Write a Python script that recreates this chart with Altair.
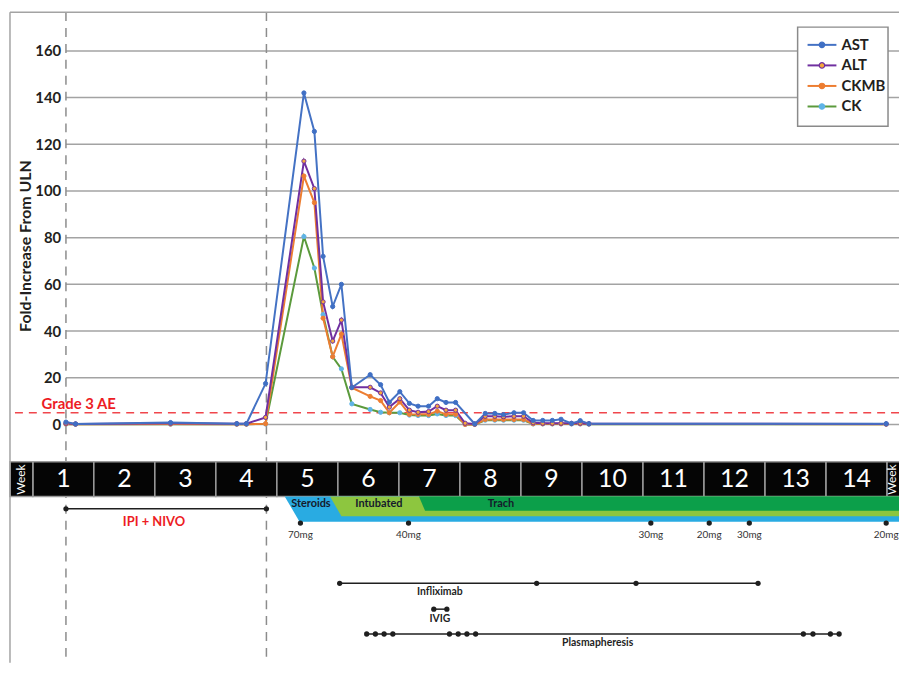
import altair as alt
import pandas as pd

# ---------------- data ----------------
SERIES = ["AST", "ALT", "CKMB", "CK"]
# study day (week k spans days 7(k-1)..7k)
LAB_DAY = [3.8, 4.9, 15.8, 23.4, 24.5, 26.7, 31.1, 32.3, 33.3, 34.4, 35.4, 36.6,
           38.7, 39.9, 40.9, 42.1, 43.2, 44.2, 45.4, 46.4, 47.4, 48.5, 49.6, 50.7,
           51.9, 53.0, 54.0, 55.2, 56.3, 57.4, 58.5, 59.6, 60.6, 61.8, 62.8, 63.8, 97.9]
AST = [1.0, 0.2, 0.8, 0.3, 0.3, 17.5, 142, 125.5, 72, 50.5, 60, 15.8,
       21.3, 17, 9.5, 14, 9, 7.8, 7.8, 11, 9.4, 9.4, None, 0.2,
       4.7, 4.7, 4.2, 5, 5, 1.7, 1.7, 1.7, 2.2, 0.4, 1.6, 0.3, 0.3]
ALT = [0.5, 0.2, 0.5, 0.3, 0.3, 3.0, 112.8, 101, 52.5, 35.7, 44.7, 15.9,
       15.9, 13.5, 7.4, 11, 6.1, 5.2, 5.5, 7.8, 6.1, 6.1, 0.5, 0.2,
       3.5, 3.5, 3.3, 3.5, 3.5, 0.7, 0.5, 0.5, 0.5, 0.5, 0.5, 0.3, 0.2]
CKMB = [0.2, 0.1, 0.2, 0.1, 0.1, 0.3, 106.4, 95, 45.5, 29, 38.7, 15.7,
        12, 10.2, 5, 9.6, 4.3, 4.3, 4.3, 5.7, 4.3, 4.3, 0, 0,
        2.1, 2.1, 2.1, 2.1, 2.1, 0.3, 0.3, 0.3, 0.3, 0.3, 0.3, 0.2, 0.1]
CK = [0.1, 0.1, 0.1, 0.1, 0.1, 0.2, 80.5, 67, 47, 29, 23.8, 8.8,
      6.4, 5.2, 5.0, 5.0, 4.0, 3.8, 3.8, 4.5, 3.8, 3.8, 0, 0,
      1.8, 1.8, 1.8, 1.8, 1.8, 0.2, 0.2, 0.2, 0.2, 0.2, 0.2, 0.1, 0.1]
Y_TICKS = [0, 20, 40, 60, 80, 100, 120, 140, 160]
GRADE3_AE = 5
WEEKS = list(range(1, 15))
IPI_NIVO_DAYS = [3.8, 26.8]
BAND_NAMES = ["Steroids", "Intubated", "Trach"]
BAND_START = [28.9, 34.1, 44.3]
STEROID_DOSE_DAY = [30.7, 43.1, 70.9, 77.6, 82.2, 97.9]
STEROID_DOSE_LABEL = ["70mg", "40mg", "30mg", "20mg", "30mg", "20mg"]
INFLIXIMAB_DAY = [35.2, 57.8, 69.2, 83.2]
IVIG_DAY = [46.0, 47.5]
PLASMA_DAY = [38.3, 39.3, 40.3, 41.3, 47.8, 48.8, 49.8, 50.8, 88.4, 89.5, 91.5, 92.5]

# ---------------- layout / style ----------------
W, H = 895, 655
X_DOMAIN = [-2.62, 99.37]
Y_DOMAIN = [-102.13, 176.6]
LANE = dict(week_top=-15.96, week_bot=-30.85, week_text=-23.62,
            band_top=-30.85, band_bot=[-41.70, -39.36, -37.02], band_text=-34.04,
            ipi=-36.17, ipi_text=-41.8, dose=-42.26, dose_text=-47.53,
            infl=-68.09, infl_text=-71.70, ivig=-79.15, ivig_text=-83.40,
            plasma=-89.79, plasma_text=-93.83)
# legend box placement (in chart units)
LEG = dict(x0=87.74, x1=98.11, y0=170.2, y1=127.7, sym0=88.88, sym1=92.19,
           dot=90.53, text=92.76, row0=162.6, step=8.8)
BAND_SLANT = [1.7, 1.3, 0.7]
BAND_COLORS = ["#29abe2", "#8dc63f", "#0c9f4a"]
BAND_LABEL_DAY = [31.9, 39.7, 53.7]
LINE_COLORS = ["#4472c4", "#7030a0", "#ed7d31", "#5b9a3c"]
MARK_FILL = ["#3f6fc4", "#f6a93b", "#ed7d31", "#5fb3e6"]
MARK_STROKE = ["#3f6fc4", "#7030a0", "#ed7d31", "#5fb3e6"]
FONT = "Lato"
RED = "#ed1c24"
DARK = "#1f1f1f"
TXT = "#231f20"

XS = alt.Scale(domain=X_DOMAIN, nice=False, zero=False)
YS = alt.Scale(domain=Y_DOMAIN, nice=False, zero=False)
CS = alt.Scale(domain=SERIES, range=LINE_COLORS)
FS = alt.Scale(domain=SERIES, range=MARK_FILL)
SS = alt.Scale(domain=SERIES, range=MARK_STROKE)

Y_AXIS = alt.Axis(
    values=Y_TICKS, offset=-56, grid=False, domain=False, ticks=False, tickSize=0,
    labelPadding=5, labelFont=FONT, labelFontSize=15, labelFontWeight="bold",
    labelColor=TXT, title="Fold-Increase From ULN", titleFont=FONT,
    titleFontSize=16, titleFontWeight="bold", titleColor=TXT,
    titleAngle=270, titleX=-40.5, titleY=235, titleBaseline="middle", titleAlign="center")


def X(f):
    return alt.X(f, type="quantitative", scale=XS, axis=None)


def Y(f):
    return alt.Y(f, type="quantitative", scale=YS, axis=Y_AXIS)


# lab table (draw order CK -> AST so AST is on top)
rows = []
for s, vals in [("CK", CK), ("CKMB", CKMB), ("ALT", ALT), ("AST", AST)]:
    for d, v in zip(LAB_DAY, vals):
        if v is not None:
            rows.append({"day": d, "value": v, "series": s})
lab = pd.DataFrame(rows)

# gridlines
grid = alt.Chart(pd.DataFrame({"v": Y_TICKS, "x0": IPI_NIVO_DAYS[0], "x1": X_DOMAIN[1]})).mark_rule(
    color="#a3a3a3", strokeWidth=1.5).encode(x=X("x0"), x2="x1", y=Y("v"))

dashed = alt.Chart(pd.DataFrame({"day": IPI_NIVO_DAYS})).mark_rule(
    color="#8c8c8c", strokeWidth=1.5, strokeDash=[9, 7]).encode(x=X("day"))

grade = alt.Chart(pd.DataFrame({"v": [GRADE3_AE]})).mark_rule(
    color="#f0464c", strokeWidth=1.5, strokeDash=[8, 6]).encode(y=Y("v"))
grade_txt = alt.Chart(pd.DataFrame({"v": [GRADE3_AE], "d": [1.0], "t": ["Grade 3 AE"]})).mark_text(
    align="left", baseline="bottom", dy=-1, font=FONT, fontSize=15, fontWeight="bold", color=RED
).encode(x=X("d"), y=Y("v"), text="t:N")

lines = alt.Chart(lab).mark_line(strokeWidth=2).encode(
    x=X("day"), y=Y("value"),
    color=alt.Color("series:N", scale=CS, legend=None),
)
points = alt.Chart(lab).mark_point(shape="circle", size=18, filled=True, opacity=1, strokeWidth=1).encode(
    x=X("day"), y=Y("value"),
    fill=alt.Fill("series:N", scale=FS, legend=None),
    stroke=alt.Stroke("series:N", scale=SS, legend=None),
)

# legend (drawn with marks)
leg_df = pd.DataFrame({"series": SERIES,
                       "y": [LEG["row0"] - i * LEG["step"] for i in range(len(SERIES))],
                       "a": LEG["sym0"], "b": LEG["sym1"], "d": LEG["dot"], "t": LEG["text"]})
leg_box = alt.Chart(pd.DataFrame({"a": [LEG["x0"]], "b": [LEG["x1"]], "c": [LEG["y0"]], "e": [LEG["y1"]]})).mark_rect(
    fill="white", stroke="#8a8a8a", strokeWidth=1.5).encode(x=X("a"), x2="b", y=Y("c"), y2="e")
leg_line = alt.Chart(leg_df).mark_rule(strokeWidth=2).encode(
    x=X("a"), x2="b", y=Y("y"), color=alt.Color("series:N", scale=CS, legend=None))
leg_dot = alt.Chart(leg_df).mark_point(shape="circle", size=30, filled=True, opacity=1, strokeWidth=1.2).encode(
    x=X("d"), y=Y("y"),
    fill=alt.Fill("series:N", scale=FS, legend=None),
    stroke=alt.Stroke("series:N", scale=SS, legend=None))
leg_txt = alt.Chart(leg_df).mark_text(align="left", baseline="middle", font=FONT, fontSize=15,
                                      fontWeight="bold", color=TXT).encode(
    x=X("t"), y=Y("y"), text="series:N")

# week bar
wk = pd.DataFrame({"s": [7 * (k - 1) for k in WEEKS] + [X_DOMAIN[0], 7 * WEEKS[-1]],
                   "e": [7 * k for k in WEEKS] + [0, X_DOMAIN[1] + 1],
                   "y0": LANE["week_top"], "y1": LANE["week_bot"]})
week_bar = alt.Chart(wk).mark_rect(fill="#050505", stroke="#9b9b9b", strokeWidth=1.5).encode(
    x=X("s"), x2="e", y=Y("y0"), y2="y1")
wk_txt = pd.DataFrame({"m": [7 * k - 3.5 for k in WEEKS], "t": [str(k) for k in WEEKS],
                       "y": LANE["week_text"]})
week_num = alt.Chart(wk_txt).mark_text(color="white", font=FONT, fontSize=25, baseline="middle").encode(
    x=X("m"), y=Y("y"), text="t:N")
wk_lab = pd.DataFrame({"m": [(X_DOMAIN[0]) / 2, 98.6], "t": ["Week", "Week"], "y": LANE["week_text"]})
week_word = alt.Chart(wk_lab).mark_text(color="white", font=FONT, fontSize=12, angle=270,
                                         baseline="middle", align="center").encode(
    x=X("m"), y=Y("y"), text="t:N")

# treatment bands
band_layers = []
for name, st, sl, bot, col in zip(BAND_NAMES, BAND_START, BAND_SLANT, LANE["band_bot"], BAND_COLORS):
    bdf = pd.DataFrame({"x": [st, st + sl, X_DOMAIN[1] + 1],
                        "t": [LANE["band_top"]] * 3,
                        "b": [LANE["band_top"], bot, bot]})
    band_layers.append(alt.Chart(bdf).mark_area(color=col, opacity=1).encode(
        x=X("x"), y=Y("t"), y2="b"))
band_txt = alt.Chart(pd.DataFrame({"d": BAND_LABEL_DAY, "t": BAND_NAMES, "y": LANE["band_text"]})).mark_text(
    font=FONT, fontSize=11, fontWeight="bold", color="#151a2c", baseline="middle").encode(
    x=X("d"), y=Y("y"), text="t:N")


def event(days, lane, label, label_day, label_lane, color=DARK, size=11, lcolor=DARK):
    seg = alt.Chart(pd.DataFrame({"a": [min(days)], "b": [max(days)], "y": [lane]})).mark_rule(
        color=color, strokeWidth=1.5).encode(x=X("a"), x2="b", y=Y("y"))
    dots = alt.Chart(pd.DataFrame({"d": days, "y": lane})).mark_circle(
        size=28, color=color, opacity=1).encode(x=X("d"), y=Y("y"))
    txt = alt.Chart(pd.DataFrame({"d": [label_day], "y": [label_lane], "t": [label]})).mark_text(
        font=FONT, fontSize=size, fontWeight="bold", color=lcolor, baseline="middle").encode(
        x=X("d"), y=Y("y"), text="t:N")
    return [seg, dots, txt]


ipi = event(IPI_NIVO_DAYS, LANE["ipi"], "IPI + NIVO", 13.9, LANE["ipi_text"], size=13, lcolor=RED)
infl = event(INFLIXIMAB_DAY, LANE["infl"], "Infliximab", 46.7, LANE["infl_text"], size=10.5)
ivig = event(IVIG_DAY, LANE["ivig"], "IVIG", 46.7, LANE["ivig_text"], size=10.5)
plasma = event(PLASMA_DAY, LANE["plasma"], "Plasmapheresis", 64.8, LANE["plasma_text"], size=10.5)

dose_dots = alt.Chart(pd.DataFrame({"d": STEROID_DOSE_DAY, "y": LANE["dose"]})).mark_circle(
    size=28, color=DARK, opacity=1).encode(x=X("d"), y=Y("y"))
dose_txt = alt.Chart(pd.DataFrame({"d": STEROID_DOSE_DAY, "t": STEROID_DOSE_LABEL, "y": LANE["dose_text"]})).mark_text(
    font=FONT, fontSize=10, color="#333333", baseline="middle").encode(x=X("d"), y=Y("y"), text="t:N")

frame_df = pd.DataFrame({"a": [0]})
frame_l = alt.Chart(frame_df).mark_rule(color="#a3a3a3", strokeWidth=1.5).encode(
    x=alt.value(0), y=alt.value(0), y2=alt.value(H))
frame_t = alt.Chart(frame_df).mark_rule(color="#a3a3a3", strokeWidth=1.5).encode(
    x=alt.value(0), x2=alt.value(W), y=alt.value(0))

chart = alt.layer(
    grid, dashed, grade, grade_txt, lines, points,
    leg_box, leg_line, leg_dot, leg_txt,
    week_bar, week_num, week_word, *band_layers, band_txt,
    *ipi, dose_dots, dose_txt, *infl, *ivig, *plasma, frame_l, frame_t,
).properties(
    width=W, height=H,
    autosize=alt.AutoSizeParams(type="none"),
    padding={"left": 2, "top": 2, "right": 0, "bottom": 0},
).configure(background="white").configure_view(strokeWidth=0, stroke="transparent")

chart.save("out.html", embed_options={"renderer": "svg", "actions": False})
